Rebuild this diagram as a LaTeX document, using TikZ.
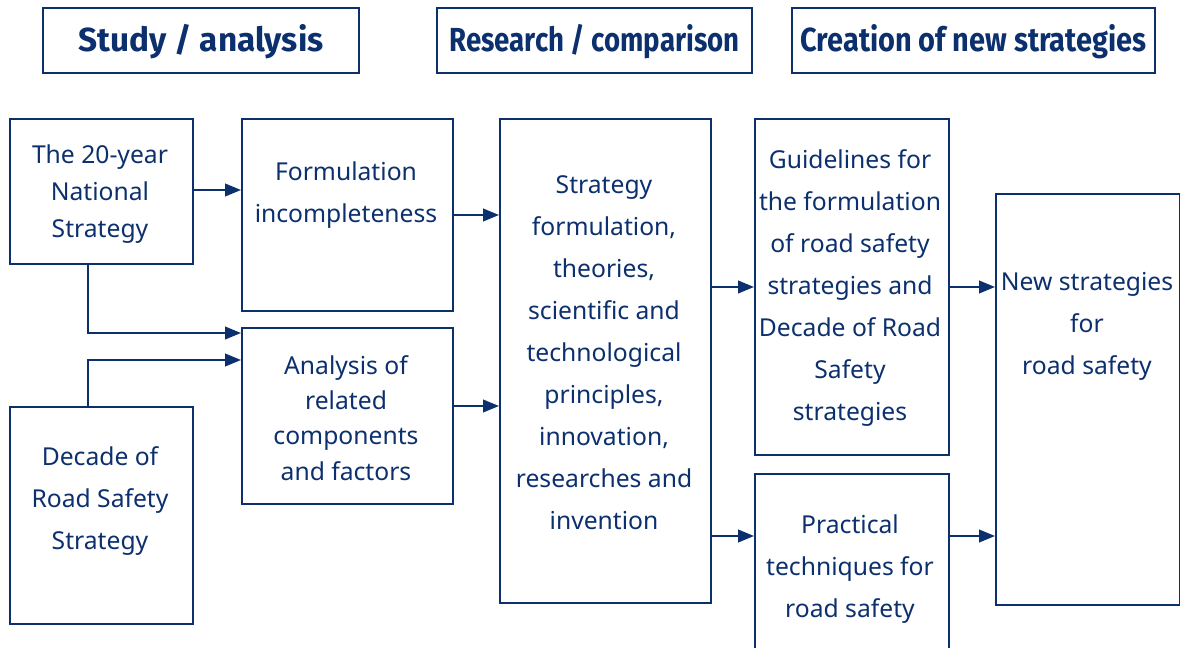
\documentclass[tikz,border=0pt]{standalone}
\usepackage{fontspec}
\setmainfont{Noto Sans}
\newfontfamily\headfont{Fira Sans Bold}
\usetikzlibrary{arrows.meta}
\definecolor{navy}{RGB}{12,48,110}
% headings keep their height and are stretched to a set width
\newcommand{\headtext}[2]{\resizebox{#1}{\height}{#2}}
\begin{document}
\begin{tikzpicture}[x=0.75pt,y=-0.75pt,
  box/.style={draw=navy,line width=1.5pt,rectangle,inner sep=0pt,anchor=north west},
  head/.style={text=navy,font=\fontsize{25}{30}\selectfont\headfont},
  body/.style={text=navy,align=center,font=\fontsize{18.5}{31.5}\selectfont},
  link/.style={draw=navy,line width=1.5pt,-{Triangle[length=12pt,width=9.5pt]}}]
\useasboundingbox (0,0) rectangle (1180,648);
\clip (0,0) rectangle (1180,648);
% heading boxes
\node[box,minimum width=316*0.75pt,minimum height=65*0.75pt] (h1) at (42,7) {};
\node[box,minimum width=315*0.75pt,minimum height=65*0.75pt] (h2) at (436,7) {};
\node[box,minimum width=363*0.75pt,minimum height=65*0.75pt] (h3) at (791,7) {};
\node[head] (h1t) at ([yshift=-1]h1.center) {\headtext{183.75pt}{Study / analysis}};
\node[head] (h2t) at ([yshift=-1]h2.center) {\headtext{217.5pt}{Research / comparison}};
\node[head] (h3t) at ([yshift=-1]h3.center) {\headtext{259.5pt}{Creation of new strategies}};
% process boxes
\node[box,minimum width=183*0.75pt,minimum height=145*0.75pt] (nat) at (9,118) {};
\node[box,minimum width=211*0.75pt,minimum height=192*0.75pt] (inc) at (241,118) {};
\node[box,minimum width=211*0.75pt,minimum height=176*0.75pt] (ana) at (241,327) {};
\node[box,minimum width=183*0.75pt,minimum height=217*0.75pt] (dec) at (9,406) {};
\node[box,minimum width=211*0.75pt,minimum height=484*0.75pt] (str) at (499,118) {};
\node[box,minimum width=194*0.75pt,minimum height=336*0.75pt] (gui) at (754,118) {};
\node[box,minimum width=194*0.75pt,minimum height=200*0.75pt] (pra) at (754,473) {};
\node[box,minimum width=184*0.75pt,minimum height=411*0.75pt] (new) at (995,193) {};
% box texts
\node[body,font=\fontsize{18.5}{27.75}\selectfont] (natt) at (100,194) {The 20-year\\National\\Strategy};
\node[body] (inct) at (346,195) {Formulation\\incompleteness};
\node[body,font=\fontsize{18.5}{26.5}\selectfont] (anat) at (346,418) {Analysis of\\related\\components\\and factors};
\node[body] (dect) at (100,501) {Decade of\\Road Safety\\Strategy};
\node[body] (strt) at (604,353) {Strategy\\formulation,\\theories,\\scientific and\\technological\\principles,\\innovation,\\researches and\\invention};
\node[body] (guit) at (850,288) {Guidelines for\\the formulation\\of road safety\\strategies and\\Decade of Road\\Safety\\strategies};
\node[body] (prat) at (850,569) {Practical\\techniques for\\road safety};
\node[body] (newt) at (1087,326) {New strategies\\for\\road safety};
% connectors
\draw[link] (nat.east |- 0,190) -- (inc.west |- 0,190);
\draw[link] (nat.south -| 88,0) |- (ana.west |- 0,333);
\draw[link] (dec.north -| 88,0) |- (ana.west |- 0,360);
\draw[link] (inc.east |- 0,215) -- (str.west |- 0,215);
\draw[link] (ana.east |- 0,406) -- (str.west |- 0,406);
\draw[link] (str.east |- 0,287) -- (gui.west |- 0,287);
\draw[link] (str.east |- 0,536) -- (pra.west |- 0,536);
\draw[link] (gui.east |- 0,287) -- (new.west |- 0,287);
\draw[link] (pra.east |- 0,536) -- (new.west |- 0,536);
\end{tikzpicture}
\end{document}
